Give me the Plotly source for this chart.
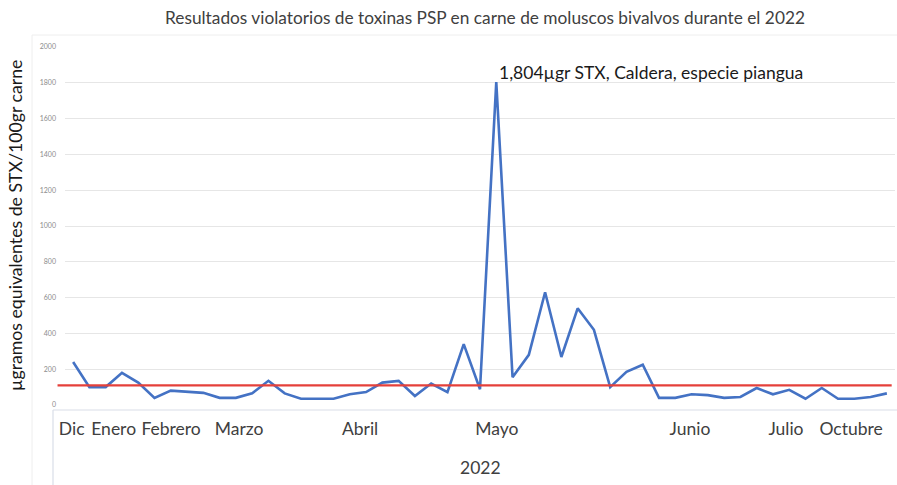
import plotly.graph_objects as go

# ---- data ----
sample_index = list(range(1, 52))
toxin_values = [240, 100, 100, 180, 125, 40, 80, 72, 68, 40,
                40, 65, 135, 65, 35, 35, 35, 60, 72, 125,
                135, 50, 120, 72, 340, 88, 1804, 155, 280, 630,
                268, 540, 420, 100, 185, 225, 40, 40, 60, 55,
                40, 45, 95, 60, 85, 35, 95, 35, 35, 45, 65]
limit_value = 110
month_labels = ["Dic", "Enero", "Febrero", "Marzo", "Abril", "Mayo", "Junio", "Julio", "Octubre"]
month_ticks = [0.91, 3.49, 7.02, 11.2, 18.63, 27.04, 38.9, 44.8, 48.8]
year_label = "2022"
y_ticks = [0, 200, 400, 600, 800, 1000, 1200, 1400, 1600, 1800, 2000]
peak_text = "1,804µgr STX, Caldera, especie piangua"

FONT = "Lato"
peak_i = toxin_values.index(max(toxin_values))

fig = go.Figure()
fig.add_trace(go.Scatter(
    x=sample_index, y=toxin_values, mode="lines",
    line=dict(color="#4472C4", width=2.6), hoverinfo="x+y", showlegend=False))

W, H = 897, 485
L, R, T, B = 65, 2, 47, 80

fig.update_layout(
    width=W, height=H,
    margin=dict(l=L, r=R, t=T, b=B),
    paper_bgcolor="white", plot_bgcolor="white",
    font=dict(family=FONT, color="#404040"),
    title=dict(text="Resultados violatorios de toxinas PSP en carne de moluscos bivalvos durante el 2022",
               x=485 / W, xanchor="center", xref="container",
               y=1 - 18 / H, yanchor="middle", yref="container",
               font=dict(family=FONT, size=17.3, color="#404040")),
    xaxis=dict(range=[0.5, 51.5], tickmode="array", tickvals=month_ticks, ticktext=month_labels,
               showgrid=False, zeroline=False, showline=False, ticks="",
               tickfont=dict(family=FONT, size=17.5, color="#404040"), ticklabelstandoff=11),
    yaxis=dict(range=[0, 2000], tickvals=y_ticks, showgrid=True, gridcolor="#e6e6e6", gridwidth=1,
               zeroline=False, showline=False, ticks="",
               tickfont=dict(family=FONT, size=7, color="#8c8c8c"), ticklabelstandoff=8),
    showlegend=False,
)

# threshold line
fig.add_shape(type="line", xref="paper", yref="y", x0=-0.009, x1=0.996,
              y0=limit_value, y1=limit_value, line=dict(color="#E5403A", width=2.2), layer="above")

# category axis box
fig.add_shape(type="line", xref="paper", yref="paper", x0=(53 - L) / 830, x1=1.01,
              y0=-(410 - 405) / 358, y1=-(410 - 405) / 358, line=dict(color="#d9dee8", width=1.2))
fig.add_shape(type="line", xref="paper", yref="paper", x0=(53 - L) / 830, x1=(53 - L) / 830,
              y0=-(410 - 405) / 358, y1=-(485 - 405) / 358, line=dict(color="#d9dee8", width=1.2))
# faint outer frame
fig.add_shape(type="rect", xref="paper", yref="paper", x0=(32 - L) / 830, x1=1.01,
              y0=(405 - 35) / 358, y1=-(486 - 405) / 358, line=dict(color="#eeeeee", width=1))

# year label
fig.add_annotation(x=sum(sample_index) / len(sample_index), xref="x", y=-(467 - 405) / 358, yref="paper",
                   text=year_label, showarrow=False, xanchor="center", yanchor="middle",
                   font=dict(family=FONT, size=17.5, color="#404040"))

# peak annotation
fig.add_annotation(x=sample_index[peak_i], y=toxin_values[peak_i], xref="x", yref="y",
                   text=peak_text, showarrow=False, xanchor="left", yanchor="bottom",
                   xshift=1, yshift=-3, font=dict(family=FONT, size=17.5, color="#1a1a1a"))

# y-axis title
fig.add_annotation(x=(15 - L) / 830, xref="paper", y=(405 - 226) / 358, yref="paper",
                   text="µgramos equivalentes de STX/100gr carne", textangle=-90, showarrow=False,
                   xanchor="center", yanchor="middle", font=dict(family=FONT, size=17.7, color="#1a1a1a"))

fig.write_html("out.html", config={"displayModeBar": False},
               post_script="document.body.style.margin='0';document.body.style.overflow='hidden';")
